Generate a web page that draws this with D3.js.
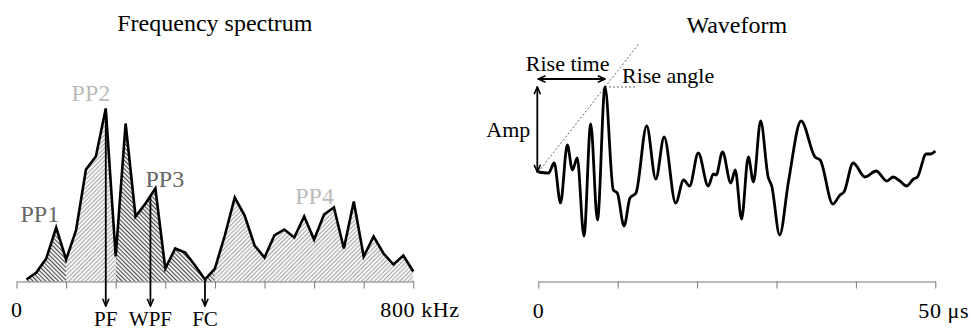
<!DOCTYPE html>
<html>
<head>
<meta charset="utf-8">
<script src="https://cdn.jsdelivr.net/npm/d3@7"></script>
<style>
  body { margin: 0; background: #fff; }
  svg { display: block; font-family: "Liberation Serif", "Times New Roman", serif; }
</style>
</head>
<body>
<svg></svg>
<script>
// spectrum (kHz / relative amplitude)
let specFreq = [20, 40, 60, 80, 100, 120, 140, 160, 180, 200,
                220, 240, 260, 280, 300, 320, 340, 360, 380, 400,
                420, 440, 460, 480, 500, 520, 540, 560, 580, 600,
                620, 640, 660, 680, 700, 720, 740, 760, 780, 800];
let specAmp = [2, 9, 23, 54, 22, 51, 112, 125, 173, 25,
               158, 65, 78, 93, 13, 33, 29, 16, 2, 13,
               46, 84, 66, 36, 24, 46, 52, 44, 65, 42,
               67, 74, 33, 80, 25, 45, 28, 17, 26, 10];
let specTicks = [0, 100, 200, 300, 400, 500, 600, 700, 800];

// hatched bands under the spectrum
let bandEdges = [20, 100, 200, 400, 800];
let bandShade = ['dark', 'light', 'dark', 'light'];

let peakNames = ['PP1', 'PP2', 'PP3', 'PP4'];
let peakShade = ['dark', 'light', 'dark', 'light'];
let peakLabelFreq = [47, 150, 299, 601];
let peakLabelAmp = [60, 181, 95, 78];

let markNames = ['PF', 'WPF', 'FC'];
let markFreq = [180, 270, 380];

// waveform (µs / amplitude)
let waveTime = [0, 1.3, 2.0, 2.8, 3.65, 4.3, 4.9, 5.75, 6.6, 7.45,
                8.4, 9.45, 9.95, 10.8, 11.55, 12.3, 13.65, 14.8, 15.85, 17.3,
                18.3, 19.05, 20.15, 21.4, 22.05, 22.4, 23.2, 24.25, 24.8, 25.6,
                26.45, 27.1, 28.0, 28.95, 29.4, 30.4, 31.5, 33.1, 34.85, 35.5,
                37.1, 38.0, 38.5, 39.65, 41.15, 42.55, 43.9, 44.7, 45.55, 46.4,
                47.25, 47.75, 48.85, 49.4, 50];
let waveAmp = [0, -1, 9, -31, 27, 2, 14, -64, 48, -48,
               85, -18, -21, -54, -26, -21, 46, -7, 35, -31,
               -8, -14, 19, -14, -2, -3, 20, -11, 2, -47,
               15, -10, 51, -5, -14, -63, -10, 51, 15, 12,
               -32, -23, -20, 9, -5, 1, -9, -5, -9, -14,
               -7, -5, 18, 18, 21];
let waveTicks = [0, 10, 20, 30, 40, 50];
let riseTime = 8.4;
let riseAmp = 85;

let width = 974;
let height = 331;

let svg = d3.select('svg').attr('width', width).attr('height', height);
let defs = svg.append('defs');

let shadeColor = { dark: '#4a4a4a', light: '#a8a8a8' };
let labelColor = { dark: '#666', light: '#bbb' };

// hatch patterns: dark leans "\", light leans "/"
let makeHatch = (id, color, angle) => {
  let p = defs.append('pattern')
    .attr('id', id)
    .attr('patternUnits', 'userSpaceOnUse')
    .attr('width', 8)
    .attr('height', 3)
    .attr('patternTransform', 'rotate(' + angle + ')');
  p.append('rect').attr('width', 8).attr('height', 3).attr('fill', '#fff');
  p.append('line')
    .attr('x1', 0).attr('x2', 8)
    .attr('y1', 1.5).attr('y2', 1.5)
    .attr('stroke', color)
    .attr('stroke-width', 1.2);
};
makeHatch('hatch-dark', shadeColor.dark, 45);
makeHatch('hatch-light', shadeColor.light, -45);

let makeArrow = (id) => {
  defs.append('marker')
    .attr('id', id)
    .attr('viewBox', '0 0 10 10')
    .attr('refX', 9)
    .attr('refY', 5)
    .attr('markerUnits', 'userSpaceOnUse')
    .attr('markerWidth', 9)
    .attr('markerHeight', 9)
    .attr('orient', 'auto-start-reverse')
    .append('path')
    .attr('d', 'M1,1.5 L9,5 L1,8.5')
    .attr('fill', 'none')
    .attr('stroke', '#000')
    .attr('stroke-width', 1.8);
};
makeArrow('arrow');

// ---------- Frequency spectrum ----------
let xSpec = d3.scaleLinear().domain([0, 800]).range([16.5, 413.3]);
let ySpec = d3.scaleLinear().domain([0, 180]).range([281.5, 101.5]);

let specData = specFreq.map((f, i) => [f, specAmp[i]]);

let area = d3.area()
  .x(d => xSpec(d[0]))
  .y0(ySpec(0))
  .y1(d => ySpec(d[1]));

bandShade.forEach((shade, i) => {
  let cid = 'band-' + i;
  defs.append('clipPath').attr('id', cid)
    .append('rect')
    .attr('x', xSpec(bandEdges[i]))
    .attr('width', xSpec(bandEdges[i + 1]) - xSpec(bandEdges[i]))
    .attr('y', 0)
    .attr('height', height);
  svg.append('path')
    .datum(specData)
    .attr('d', area)
    .attr('fill', 'url(#hatch-' + shade + ')')
    .attr('clip-path', 'url(#' + cid + ')');
});

svg.append('g')
  .attr('transform', 'translate(0,' + ySpec(0) + ')')
  .call(d3.axisBottom(xSpec).tickValues(specTicks).tickSize(7).tickSizeOuter(0).tickFormat(''))
  .call(g => g.selectAll('line,path').attr('stroke', '#777'));

svg.append('path')
  .datum(specData)
  .attr('d', d3.line().x(d => xSpec(d[0])).y(d => ySpec(d[1])))
  .attr('fill', 'none')
  .attr('stroke', '#000')
  .attr('stroke-width', 2.6)
  .attr('stroke-linejoin', 'miter');

// marker arrows: start on the curve, point down to the labels
let specAt = (f) => {
  let i = d3.bisectLeft(specFreq, f);
  if (specFreq[i] === f) return specAmp[i];
  let t = (f - specFreq[i - 1]) / (specFreq[i] - specFreq[i - 1]);
  return specAmp[i - 1] + t * (specAmp[i] - specAmp[i - 1]);
};

markNames.forEach((name, i) => {
  let x = xSpec(markFreq[i]);
  svg.append('line')
    .attr('x1', x).attr('x2', x)
    .attr('y1', ySpec(specAt(markFreq[i])))
    .attr('y2', 306)
    .attr('stroke', '#000')
    .attr('stroke-width', 1.8)
    .attr('marker-end', 'url(#arrow)');
  svg.append('text')
    .attr('x', x)
    .attr('y', 326)
    .attr('text-anchor', 'middle')
    .attr('font-size', 21)
    .text(name);
});

peakNames.forEach((name, i) => {
  svg.append('text')
    .attr('x', xSpec(peakLabelFreq[i]))
    .attr('y', ySpec(peakLabelAmp[i]))
    .attr('text-anchor', 'middle')
    .attr('font-size', 24)
    .attr('fill', labelColor[peakShade[i]])
    .text(name);
});

svg.append('text')
  .attr('x', xSpec(0)).attr('y', 317)
  .attr('text-anchor', 'middle').attr('font-size', 22)
  .text('0');
svg.append('text')
  .attr('x', xSpec(800) - 33).attr('y', 317)
  .attr('font-size', 22)
  .attr('letter-spacing', 0.6)
  .text('800 kHz');

svg.append('text')
  .attr('x', (xSpec(0) + xSpec(800)) / 2).attr('y', 31)
  .attr('text-anchor', 'middle').attr('font-size', 24)
  .text('Frequency spectrum');

// ---------- Waveform ----------
let xWave = d3.scaleLinear().domain([0, 50]).range([538.3, 935.3]);
let yWave = d3.scaleLinear().domain([-70, 90]).range([242, 82]);

svg.append('g')
  .attr('transform', 'translate(0,281.5)')
  .call(d3.axisBottom(xWave).tickValues(waveTicks).tickSize(7).tickSizeOuter(0).tickFormat(''))
  .call(g => g.selectAll('line,path').attr('stroke', '#777'));

svg.append('text')
  .attr('x', xWave(0)).attr('y', 318)
  .attr('text-anchor', 'middle').attr('font-size', 22)
  .text('0');
svg.append('text')
  .attr('x', xWave(50) - 17).attr('y', 318)
  .attr('font-size', 22)
  .attr('letter-spacing', 0.6)
  .text('50 μs');

svg.append('text')
  .attr('x', (xWave(0) + xWave(50)) / 2).attr('y', 33)
  .attr('text-anchor', 'middle').attr('font-size', 24)
  .text('Waveform');

// rise-angle guide lines
let x0 = xWave(0), y0 = yWave(0);
let xp = xWave(riseTime), yp = yWave(riseAmp);
svg.append('line')
  .attr('x1', x0).attr('y1', y0)
  .attr('x2', x0 + 1.5 * (xp - x0)).attr('y2', y0 + 1.5 * (yp - y0))
  .attr('stroke', '#666').attr('stroke-width', 1)
  .attr('stroke-dasharray', '2,2');
svg.append('line')
  .attr('x1', xp).attr('y1', yp)
  .attr('x2', xp + 32).attr('y2', yp)
  .attr('stroke', '#666').attr('stroke-width', 1)
  .attr('stroke-dasharray', '2,2');

svg.append('path')
  .datum(waveTime.map((t, i) => [t, waveAmp[i]]))
  .attr('d', d3.line().x(d => xWave(d[0])).y(d => yWave(d[1])).curve(d3.curveMonotoneX))
  .attr('fill', 'none')
  .attr('stroke', '#000')
  .attr('stroke-width', 2.8)
  .attr('stroke-linejoin', 'round');

// Amp and Rise time double arrows
svg.append('line')
  .attr('x1', x0 - 1).attr('x2', x0 - 1)
  .attr('y1', y0).attr('y2', yp)
  .attr('stroke', '#000').attr('stroke-width', 1.8)
  .attr('marker-start', 'url(#arrow)')
  .attr('marker-end', 'url(#arrow)');
svg.append('line')
  .attr('x1', x0).attr('x2', xp)
  .attr('y1', 79).attr('y2', 79)
  .attr('stroke', '#000').attr('stroke-width', 1.8)
  .attr('marker-start', 'url(#arrow)')
  .attr('marker-end', 'url(#arrow)');

svg.append('text')
  .attr('x', x0 - 8).attr('y', 137)
  .attr('text-anchor', 'end').attr('font-size', 22)
  .text('Amp');
svg.append('text')
  .attr('x', (x0 + xp) / 2 - 4).attr('y', 71)
  .attr('text-anchor', 'middle').attr('font-size', 22)
  .text('Rise time');
svg.append('text')
  .attr('x', xp + 17).attr('y', 83)
  .attr('font-size', 22)
  .text('Rise angle');
</script>
</body>
</html>
